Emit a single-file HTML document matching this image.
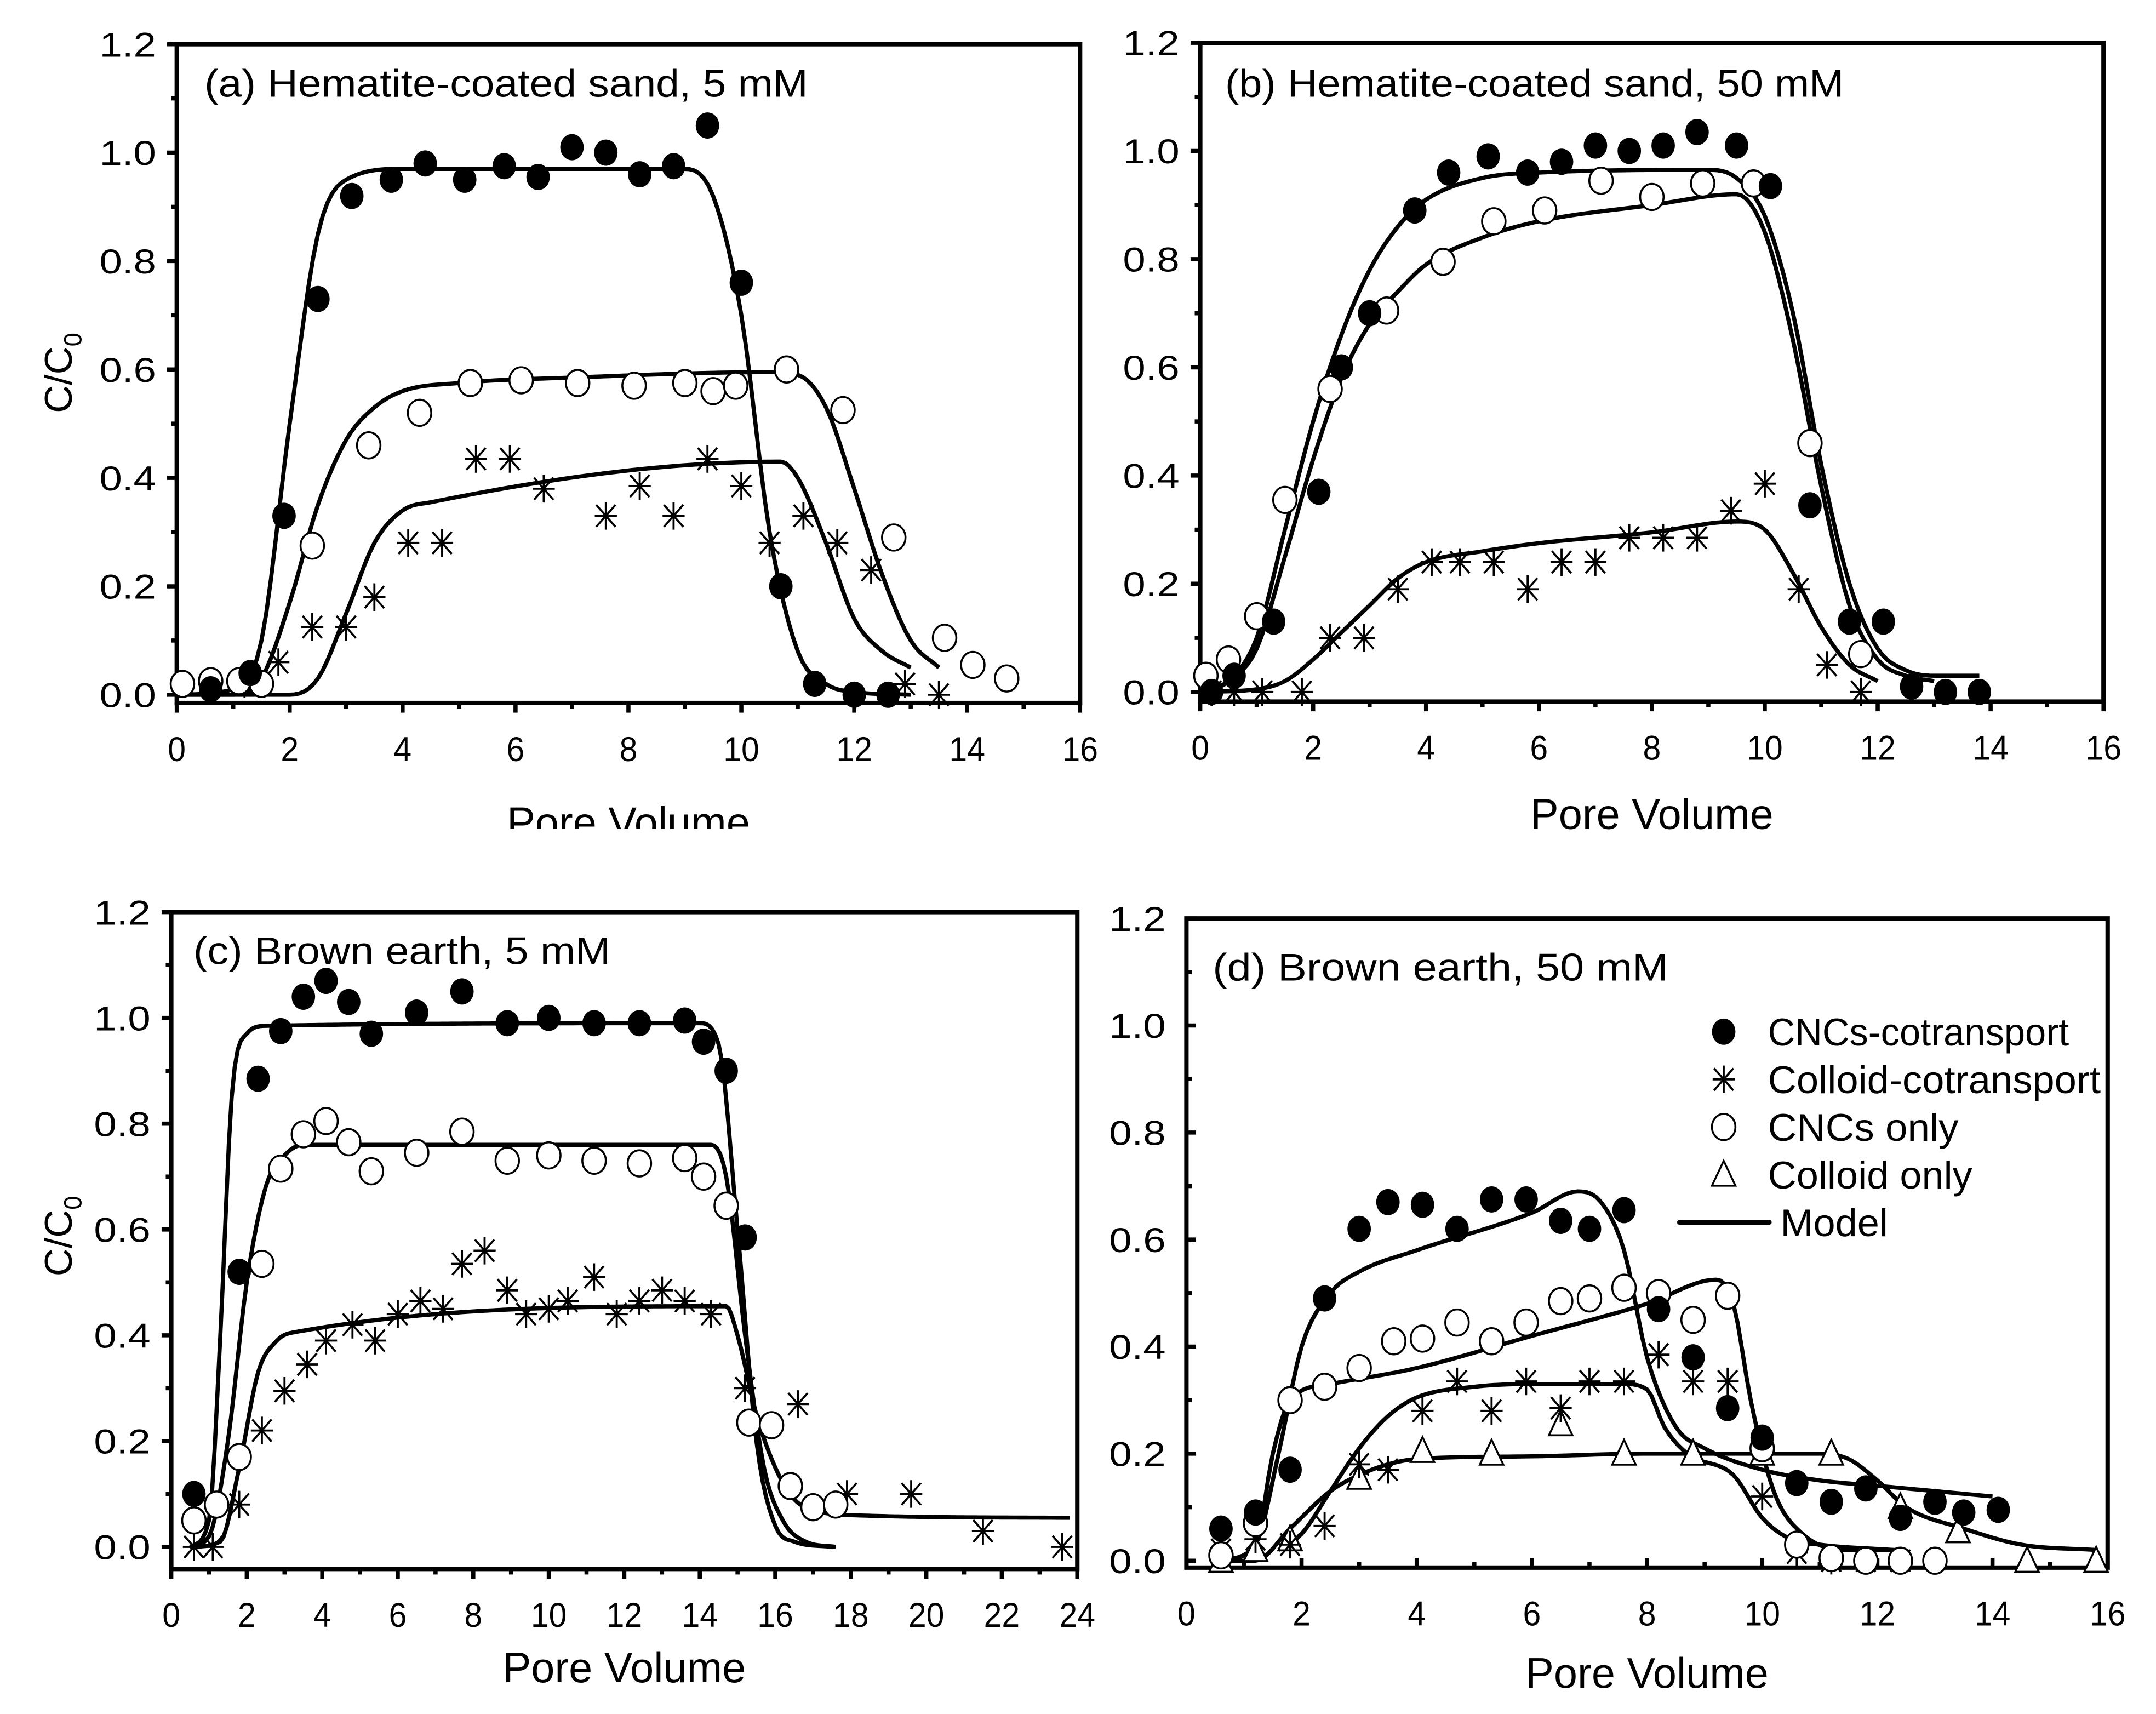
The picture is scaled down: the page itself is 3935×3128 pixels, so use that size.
<!DOCTYPE html>
<html><head><meta charset="utf-8"><style>
html,body{margin:0;padding:0;background:#fff}
svg{display:block}
text{font-family:"Liberation Sans",sans-serif;fill:#000}
</style></head><body>
<svg id="fig" width="3935" height="3128" viewBox="0 0 1561 1241" preserveAspectRatio="none" xmlns="http://www.w3.org/2000/svg">
<rect width="1561" height="1241" fill="#fff"/>
</svg>
<script>
// ---- data (x = pore volume, y = C/C0) ----
const xTicksA = [0,2,4,6,8,10,12,14,16];
const xTicksC = [0,2,4,6,8,10,12,14,16,18,20,22,24];
const yTicks = [0.0,0.2,0.4,0.6,0.8,1.0,1.2];
const yTickLabels = ["0.0","0.2","0.4","0.6","0.8","1.0","1.2"];

const aCncCoX=[0.6,1.3,1.9,2.5,3.1,3.8,4.4,5.1,5.8,6.4,7,7.6,8.2,8.8,9.4,10,10.7,11.3,12,12.6];
const aCncCoY=[0.01,0.04,0.33,0.73,0.92,0.95,0.98,0.95,0.975,0.955,1.01,1.0,0.96,0.975,1.05,0.76,0.2,0.02,0.0,0.0];
const aColCoX=[0.6,1.2,1.8,2.4,3,3.5,4.1,4.7,5.3,5.9,6.5,7.6,8.2,8.8,9.4,10,10.5,11.1,11.7,12.3,12.9,13.5];
const aColCoY=[0.02,0.02,0.06,0.125,0.125,0.18,0.28,0.28,0.435,0.435,0.38,0.33,0.385,0.33,0.435,0.385,0.28,0.33,0.28,0.23,0.02,0.0];
const aCncOnX=[0.1,0.6,1.1,1.5,2.4,3.4,4.3,5.2,6.1,7.1,8.1,9,9.5,9.9,10.8,11.8,12.7,13.6,14.1,14.7];
const aCncOnY=[0.02,0.025,0.025,0.02,0.275,0.46,0.52,0.575,0.58,0.575,0.57,0.575,0.56,0.57,0.6,0.525,0.29,0.105,0.055,0.03];
const aM1X=[0,1,1.5,2,2.5,3,4,9,9.5,10,10.5,11,11.5,12,13];
const aM1Y=[0,0.01,0.1,0.5,0.85,0.95,0.97,0.97,0.92,0.7,0.3,0.08,0.02,0.005,0];
const aM2X=[0,1,1.5,2,2.5,3,3.5,4,5,7,10.5,11,11.5,12,12.5,13,13.5];
const aM2Y=[0,0,0.03,0.17,0.35,0.47,0.53,0.56,0.575,0.585,0.595,0.59,0.53,0.38,0.22,0.1,0.05];
const aM3X=[0,2,2.5,3,3.5,4,4.5,10.7,11,11.5,12,12.5,13];
const aM3Y=[0,0,0.03,0.15,0.28,0.34,0.355,0.43,0.4,0.28,0.14,0.08,0.05];

const bCncCoX=[0.2,0.6,1.3,2.1,2.5,3,3.8,4.4,5.1,5.8,6.4,7,7.6,8.2,8.8,9.5,10.1,10.8,11.5,12.1,12.6,13.2,13.8];
const bCncCoY=[0.0,0.03,0.13,0.37,0.6,0.7,0.89,0.96,0.99,0.96,0.98,1.01,1.0,1.01,1.035,1.01,0.935,0.345,0.13,0.13,0.01,0.0,0.0];
const bColCoX=[0.2,0.6,1.1,1.8,2.3,2.9,3.5,4.1,4.6,5.2,5.8,6.4,7,7.6,8.2,8.8,9.4,10,10.6,11.1,11.7];
const bColCoY=[0.0,0.0,0.0,0.0,0.1,0.1,0.19,0.24,0.24,0.24,0.19,0.24,0.24,0.285,0.285,0.285,0.335,0.385,0.19,0.05,0.0];
const bCncOnX=[0.1,0.5,1,1.5,2.3,3.3,4.3,5.2,6.1,7.1,8,8.9,9.8,10.8,11.7];
const bCncOnY=[0.03,0.06,0.14,0.355,0.56,0.705,0.795,0.87,0.89,0.945,0.915,0.94,0.94,0.46,0.07];
const bM1X=[0,0.5,1,1.5,2,2.5,3,3.5,4,5,6,9,9.5,10,10.5,11,11.5,12,12.5,13,13.8];
const bM1Y=[0,0.02,0.1,0.3,0.5,0.66,0.78,0.86,0.91,0.95,0.96,0.965,0.95,0.88,0.7,0.42,0.2,0.08,0.04,0.03,0.03];
const bM2X=[0,0.5,1,1.5,2,2.5,3,3.5,4,5,6,8,9.5,10,10.5,11,11.5,12,12.5,13];
const bM2Y=[0,0.02,0.08,0.25,0.43,0.58,0.68,0.74,0.79,0.84,0.87,0.9,0.92,0.85,0.65,0.38,0.16,0.06,0.03,0.02];
const bM3X=[0,1,1.5,2,2.5,3,3.5,4,5,6,8,9.5,10,10.5,11,11.5,12];
const bM3Y=[0,0.005,0.02,0.06,0.11,0.16,0.21,0.24,0.26,0.275,0.295,0.315,0.3,0.22,0.12,0.05,0.02];

const cCncCoX=[0.6,1.8,2.3,2.9,3.5,4.1,4.7,5.3,6.5,7.7,8.9,10,11.2,12.4,13.6,14.1,14.7,15.2];
const cCncCoY=[0.1,0.52,0.885,0.975,1.04,1.07,1.03,0.97,1.01,1.05,0.99,1.0,0.99,0.99,0.995,0.955,0.9,0.585];
const cColCoX=[0.6,1.1,1.8,2.4,3,3.6,4.1,4.8,5.4,6,6.6,7.2,7.7,8.3,8.9,9.4,10,10.5,11.2,11.8,12.4,13,13.6,14.3,15.2,16.6,17.9,19.6,21.5,23.6];
const cColCoY=[0.0,0.0,0.08,0.22,0.295,0.345,0.39,0.42,0.39,0.44,0.465,0.45,0.535,0.56,0.485,0.44,0.45,0.465,0.51,0.44,0.465,0.485,0.465,0.44,0.3,0.27,0.1,0.1,0.03,0.0];
const cCncOnX=[0.6,1.2,1.8,2.4,2.9,3.5,4.1,4.7,5.3,6.5,7.7,8.9,10,11.2,12.4,13.6,14.1,14.7,15.3,15.9,16.4,17,17.6];
const cCncOnY=[0.05,0.08,0.17,0.535,0.715,0.78,0.805,0.765,0.71,0.745,0.785,0.73,0.74,0.73,0.725,0.735,0.7,0.645,0.235,0.23,0.115,0.075,0.08];
const cM1X=[0.5,1,1.3,1.6,2,2.5,14,14.5,15,15.5,16,16.5,17.5];
const cM1Y=[0,0.05,0.4,0.85,0.97,0.985,0.99,0.95,0.6,0.2,0.04,0.01,0];
const cM2X=[0.5,1,1.5,2,2.5,3,3.5,14.3,14.7,15.2,15.7,16.2,16.8,17.6];
const cM2Y=[0,0.02,0.2,0.5,0.68,0.74,0.76,0.76,0.7,0.4,0.15,0.05,0.01,0];
const cM3X=[0.5,1.3,1.8,2.3,2.8,3.2,14.7,15,15.5,16,16.5,17,18,23.8];
const cM3Y=[0,0.01,0.15,0.33,0.39,0.405,0.455,0.4,0.25,0.15,0.09,0.07,0.06,0.055];

const dCncCoX=[0.6,1.2,1.8,2.4,3,3.5,4.1,4.7,5.3,5.9,6.5,7,7.6,8.2,8.8,9.4,10,10.6,11.2,11.8,12.4,13,13.5,14.1];
const dCncCoY=[0.06,0.09,0.17,0.49,0.62,0.67,0.665,0.62,0.675,0.675,0.635,0.62,0.655,0.47,0.38,0.285,0.23,0.145,0.11,0.135,0.08,0.11,0.09,0.095];
const dColCoX=[0.6,1.2,1.8,2.4,3,3.5,4.1,4.7,5.3,5.9,6.5,7,7.6,8.2,8.8,9.4,10,10.6,11.2,11.8,12.4];
const dColCoY=[0.02,0.04,0.03,0.065,0.18,0.17,0.28,0.335,0.28,0.335,0.285,0.335,0.335,0.385,0.335,0.335,0.12,0.015,0.0,0.0,0.0];
const dCncOnX=[0.6,1.2,1.8,2.4,3,3.6,4.1,4.7,5.3,5.9,6.5,7,7.6,8.2,8.8,9.4,10,10.6,11.2,11.8,12.4,13];
const dCncOnY=[0.01,0.07,0.3,0.325,0.36,0.41,0.415,0.445,0.41,0.445,0.485,0.49,0.51,0.5,0.45,0.495,0.21,0.03,0.005,0.0,0.0,0.0];
const dColOnX=[0.6,1.2,1.8,3,4.1,5.3,6.5,7.6,8.8,10,11.2,12.4,13.4,14.6,15.8];
const dColOnY=[0.0,0.02,0.04,0.155,0.205,0.2,0.255,0.2,0.2,0.2,0.2,0.1,0.055,0.0,0.0];
const dM1X=[0.6,1.2,1.6,2,2.5,3,4,6,6.8,7.2,7.6,8,8.5,9,10,11,12,13,14];
const dM1Y=[0,0.03,0.2,0.4,0.5,0.54,0.58,0.65,0.69,0.67,0.58,0.38,0.25,0.21,0.17,0.15,0.14,0.13,0.12];
const dM2X=[0.6,1.2,1.5,1.8,2.5,4,6,8,9.2,9.5,9.8,10.2,10.7,11.5,12.3];
const dM2Y=[0,0.03,0.2,0.3,0.33,0.36,0.42,0.48,0.525,0.48,0.3,0.13,0.05,0.02,0.02];
const dM3X=[1.6,2,2.5,3,3.5,4,5,6,7.6,8,8.3,8.7,9.5,10,10.5,11,12.3];
const dM3Y=[0.02,0.05,0.13,0.21,0.27,0.305,0.325,0.33,0.33,0.32,0.25,0.2,0.16,0.08,0.04,0.03,0.02];
const dM4X=[0.6,1.2,1.8,2.5,3,3.5,4,6,8,10,11,11.5,12,12.5,13.5,14.5,15.8];
const dM4Y=[0,0,0.06,0.13,0.16,0.18,0.19,0.195,0.2,0.2,0.2,0.19,0.15,0.1,0.06,0.03,0.02];

const svg=document.getElementById('fig');
const NS='http://www.w3.org/2000/svg';
function el(tag,attrs,parent){const e=document.createElementNS(NS,tag);for(const k in attrs)e.setAttribute(k,attrs[k]);(parent||svg).appendChild(e);return e;}

// monotone cubic (Fritsch-Carlson) interpolation sampled in data space
function monotoneSample(xs,ys){
  const n=xs.length, d=[], m=new Array(n);
  for(let i=0;i<n-1;i++) d.push((ys[i+1]-ys[i])/(xs[i+1]-xs[i]));
  m[0]=d[0]; m[n-1]=d[n-2];
  for(let i=1;i<n-1;i++){ m[i]=(d[i-1]*d[i]<=0)?0:(d[i-1]+d[i])/2; }
  for(let i=0;i<n-1;i++){
    if(d[i]===0){m[i]=0;m[i+1]=0;continue;}
    const a=m[i]/d[i], b=m[i+1]/d[i], s=a*a+b*b;
    if(s>9){const t=3/Math.sqrt(s);m[i]=t*a*d[i];m[i+1]=t*b*d[i];}
  }
  const out=[];
  for(let i=0;i<n-1;i++){
    const h=xs[i+1]-xs[i], steps=Math.max(4,Math.ceil(h*12));
    for(let k=0;k<steps;k++){
      const t=k/steps, t2=t*t, t3=t2*t;
      const y=(2*t3-3*t2+1)*ys[i]+(t3-2*t2+t)*h*m[i]+(-2*t3+3*t2)*ys[i+1]+(t3-t2)*h*m[i+1];
      out.push([xs[i]+t*h,y]);
    }
  }
  out.push([xs[n-1],ys[n-1]]);
  return out;
}

function panel(cfg){
  const g=el('g',{});
  
  
  const sx=v=>cfg.x0+(v/cfg.xmax)*(cfg.x1-cfg.x0);
  const sy=v=>cfg.y0-v*cfg.k;
  const top=sy(1.2);
  const dir=cfg.inward?1:-1;
  const fr=el('rect',{x:cfg.x0,y:top,width:cfg.x1-cfg.x0,height:cfg.bot-top,fill:'none',stroke:'#000','stroke-width':3.2},g);
  
  
  yTicks.forEach((v,i)=>{
    const t=el('line',{x1:cfg.x0,x2:cfg.x0+dir*7,y1:sy(v),y2:sy(v),stroke:'#000','stroke-width':3},g);
    
    
    if(i<yTicks.length-1){el('line',{x1:cfg.x0,x2:cfg.x0+dir*4,y1:sy(v+0.1),y2:sy(v+0.1),stroke:'#000','stroke-width':3},g);}
    const tx=el('text',{x:cfg.x0-56,y:sy(v)+9,'font-size':25,textLength:41,lengthAdjust:'spacingAndGlyphs'},g);
    tx.textContent=yTickLabels[i];
    
    
  });
  const xt=cfg.xticks, step=xt[1]-xt[0];
  xt.forEach((v,i)=>{
    const t=el('line',{x1:sx(v),x2:sx(v),y1:cfg.bot,y2:cfg.bot-dir*7,stroke:'#000','stroke-width':3},g);
    
    
    if(i<xt.length-1){el('line',{x1:sx(v+step/2),x2:sx(v+step/2),y1:cfg.bot,y2:cfg.bot-dir*4,stroke:'#000','stroke-width':3},g);}
    const s=String(v), w=s.length*13;
    const tx=el('text',{x:sx(v)-w/2,y:cfg.bot+42,'font-size':25,textLength:w,lengthAdjust:'spacingAndGlyphs'},g);
    tx.textContent=s;
    
    
  });
  const xl=el('text',{x:(cfg.x0+cfg.x1)/2-88,y:cfg.xlabY,'font-size':31,textLength:176,lengthAdjust:'spacingAndGlyphs'},g);
  xl.textContent='Pore Volume';
  
  
  if(cfg.ylab){
    const yl=el('text',{x:0,y:0,'text-anchor':'middle','font-size':28,transform:`translate(52,${cfg.ylabY}) rotate(-90)`},g);
    yl.innerHTML='C/C<tspan font-size="18" dy="7">0</tspan>';
    
    
  }
  const tl=el('text',{x:cfg.tx,y:cfg.ty,'font-size':28,textLength:cfg.tw,lengthAdjust:'spacingAndGlyphs'},g);
  tl.textContent=cfg.title;
  
  
  cfg.models.forEach(([mx,my])=>{
    const pts=monotoneSample(mx,my).map(([x,y])=>sx(x).toFixed(2)+','+sy(y).toFixed(2));
    const p=el('polyline',{points:pts.join(' '),fill:'none',stroke:'#000','stroke-width':3,'stroke-linejoin':'round'},g);
    
    
  });
  cfg.series.forEach(([kind,xs,ys])=>{
    xs.forEach((x,i)=>drawMarker(g,kind,sx(x),sy(ys[i])));
  });
}
function drawMarker(g,kind,cx,cy){
  let m;
  if(kind==='filled'){m=el('ellipse',{cx,cy,rx:8.5,ry:9.5,fill:'#000'},g);}
  else if(kind==='open'){m=el('ellipse',{cx,cy,rx:8.5,ry:9.5,fill:'#fff',stroke:'#000','stroke-width':1.4},g);}
  else if(kind==='tri'){m=el('polygon',{points:`${cx},${cy-10} ${cx-8.5},${cy+8} ${cx+8.5},${cy+8}`,fill:'#fff',stroke:'#000','stroke-width':1.4},g);}
  else {m=el('path',{d:`M${cx},${cy-10}V${cy+10}M${cx-8},${cy}H${cx+8}M${cx-7},${cy-8}L${cx+7},${cy+8}M${cx-7},${cy+8}L${cx+7},${cy-8}`,stroke:'#000','stroke-width':1.5,fill:'none'},g);}
  
}

panel({name:'panel-a',x0:128,x1:782,xmax:16,y0:503,k:392.5,bot:509,inward:false,xticks:xTicksA,xlabY:606,ylab:true,ylabY:270,
  title:'(a) Hematite-coated sand, 5 mM',tx:148,ty:70,tw:437,
  models:[[aM1X,aM1Y],[aM2X,aM2Y],[aM3X,aM3Y]],
  series:[['star',aColCoX,aColCoY],['open',aCncOnX,aCncOnY],['filled',aCncCoX,aCncCoY]]});
panel({name:'panel-b',x0:869,x1:1523,xmax:16,y0:501,k:391.7,bot:508,inward:false,xticks:xTicksA,xlabY:600,ylab:false,
  title:'(b) Hematite-coated sand, 50 mM',tx:887,ty:70,tw:448,
  models:[[bM1X,bM1Y],[bM2X,bM2Y],[bM3X,bM3Y]],
  series:[['star',bColCoX,bColCoY],['open',bCncOnX,bCncOnY],['filled',bCncCoX,bCncCoY]]});
panel({name:'panel-c',x0:124,x1:780,xmax:24,y0:1120,k:383,bot:1136,inward:false,xticks:xTicksC,xlabY:1218,ylab:true,ylabY:895,
  title:'(c) Brown earth, 5 mM',tx:140,ty:698,tw:302,
  models:[[cM1X,cM1Y],[cM2X,cM2Y],[cM3X,cM3Y]],
  series:[['star',cColCoX,cColCoY],['open',cCncOnX,cCncOnY],['filled',cCncCoX,cCncCoY]]});
panel({name:'panel-d',x0:859,x1:1526,xmax:16,y0:1130,k:387.5,bot:1135,inward:true,xticks:xTicksA,xlabY:1222,ylab:false,
  title:'(d) Brown earth, 50 mM',tx:878,ty:710,tw:330,
  models:[[dM1X,dM1Y],[dM2X,dM2Y],[dM3X,dM3Y],[dM4X,dM4Y]],
  series:[['tri',dColOnX,dColOnY],['star',dColCoX,dColCoY],['open',dCncOnX,dCncOnY],['filled',dCncCoX,dCncCoY]]});

const c1=el('rect',{x:300,y:600,width:400,height:30,fill:'#fff'});


const c2=el('rect',{x:1050,y:1228,width:400,height:13,fill:'#fff'});



const lg=el('g',{});


const legendLabels=['CNCs-cotransport','Colloid-cotransport','CNCs only','Colloid only'];
const legendKinds=['filled','star','open','tri'];
const legendWidths=[218,241,138,148];
legendLabels.forEach((lab,i)=>{
  const y=747+i*34.5;
  drawMarker(lg,legendKinds[i],1248,y);
  const t=el('text',{x:1280,y:y+10,'font-size':28,textLength:legendWidths[i],lengthAdjust:'spacingAndGlyphs'},lg);
  t.textContent=lab;
  
  
});
const ml=el('line',{x1:1216,x2:1281,y1:885,y2:885,stroke:'#000','stroke-width':3.5,'stroke-linecap':'round'},lg);


const mt=el('text',{x:1289,y:895,'font-size':28,textLength:78,lengthAdjust:'spacingAndGlyphs'},lg);
mt.textContent='Model';


</script>
</body></html>
